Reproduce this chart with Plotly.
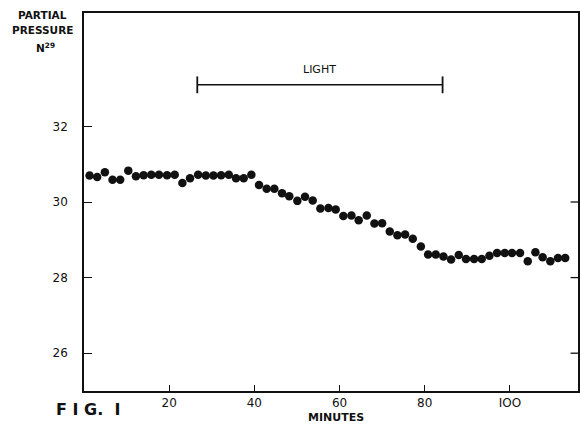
import plotly.graph_objects as go

# Data
minutes = [1.3, 3.1, 4.9, 6.7, 8.5, 10.4, 12.2, 14.0, 15.8, 17.6, 19.5, 21.3, 23.1, 24.9,
           26.8, 28.6, 30.4, 32.2, 34.0, 35.7, 37.5, 39.3, 41.1, 42.9, 44.7, 46.5, 48.2,
           50.1, 51.9, 53.7, 55.5, 57.4, 59.1, 60.9, 62.8, 64.5, 66.4, 68.2, 70.0, 71.8,
           73.6, 75.4, 77.2, 79.1, 80.8, 82.6, 84.4, 86.2, 88.0, 89.7, 91.6, 93.4, 95.2,
           97.0, 98.8, 100.5, 102.4, 104.2, 106.0, 107.7, 109.5, 111.3, 113.0]
pressure = [30.70, 30.66, 30.79, 30.59, 30.59, 30.83, 30.68, 30.71, 30.72, 30.72, 30.71,
            30.72, 30.50, 30.63, 30.72, 30.70, 30.70, 30.71, 30.72, 30.63, 30.63, 30.72,
            30.45, 30.35, 30.35, 30.23, 30.15, 30.03, 30.14, 30.04, 29.83, 29.84, 29.80,
            29.63, 29.64, 29.52, 29.64, 29.43, 29.44, 29.22, 29.12, 29.14, 29.03, 28.82,
            28.61, 28.61, 28.56, 28.48, 28.60, 28.49, 28.49, 28.49, 28.58, 28.65, 28.65,
            28.65, 28.65, 28.43, 28.67, 28.54, 28.43, 28.52, 28.52]

x_ticks = [20, 40, 60, 80, 100]
x_tick_labels = ["20", "40", "60", "80", "IOO"]
y_ticks = [26, 28, 30, 32]
y_tick_labels = ["26", "28", "30", "32"]
right_ticks = [26, 28, 30]

light_start, light_end, light_level = 26.6, 84.2, 33.1

FONT = "DejaVu Sans"
INK = "#111111"

fig = go.Figure()

fig.add_trace(go.Scatter(
    x=minutes, y=pressure, mode="markers",
    marker=dict(size=8.5, color=INK, line=dict(width=0)),
    showlegend=False, hoverinfo="skip"))

# Light period bar
fig.add_trace(go.Scatter(
    x=[light_start, light_end], y=[light_level, light_level],
    mode="lines+markers",
    line=dict(color=INK, width=1.6),
    marker=dict(symbol="line-ns-open", size=12, line=dict(width=1.8, color=INK)),
    showlegend=False, hoverinfo="skip"))

fig.add_annotation(x=(light_start + light_end) / 2, y=light_level, yshift=15,
                   text="LIGHT", showarrow=False,
                   font=dict(family=FONT, size=11, color=INK))

# right-side inward ticks
for v in right_ticks:
    fig.add_shape(type="line", xref="paper", yref="y", x0=1, x1=0.985, y0=v, y1=v,
                  line=dict(color=INK, width=1.3))

fig.update_xaxes(
    range=[0, 116], tickmode="array", tickvals=x_ticks, ticktext=x_tick_labels,
    ticks="inside", ticklen=6, tickwidth=1.3, tickcolor=INK,
    showline=True, linecolor=INK, linewidth=1.6, mirror=True,
    showgrid=False, zeroline=False, automargin=False,
    tickfont=dict(family=FONT, size=12, color=INK))

fig.update_yaxes(
    range=[25, 35], tickmode="array", tickvals=y_ticks, ticktext=y_tick_labels,
    ticks="inside", ticklen=8, tickwidth=1.3, tickcolor=INK,
    showline=True, linecolor=INK, linewidth=1.6, mirror=True,
    showgrid=False, zeroline=False, ticklabelstandoff=12, automargin=False,
    tickfont=dict(family=FONT, size=12, color=INK))

def paper_text(text, x, y, size):
    fig.add_annotation(xref="paper", yref="paper", x=x, y=y, xanchor="center",
                       yanchor="middle", text=text, showarrow=False,
                       font=dict(family=FONT, size=size, color=INK))

paper_text("<b>PARTIAL</b>", -0.085, 0.995, 10.5)
paper_text("<b>PRESSURE</b>", -0.085, 0.955, 10.5)
paper_text("<b>N<sup>29</sup></b>", -0.077, 0.91, 10.5)
paper_text("<b>F I G.  I</b>", 0.008, -0.05, 16)
paper_text("<b>MINUTES</b>", 0.51, -0.071, 11)

fig.update_layout(
    width=580, height=427,
    margin=dict(l=84, r=2, t=13, b=36, autoexpand=False),
    paper_bgcolor="white", plot_bgcolor="white",
)

fig.write_html("out.html",
               config={"displayModeBar": False},
               post_script="document.body.style.margin='0';document.body.style.overflow='hidden';")
